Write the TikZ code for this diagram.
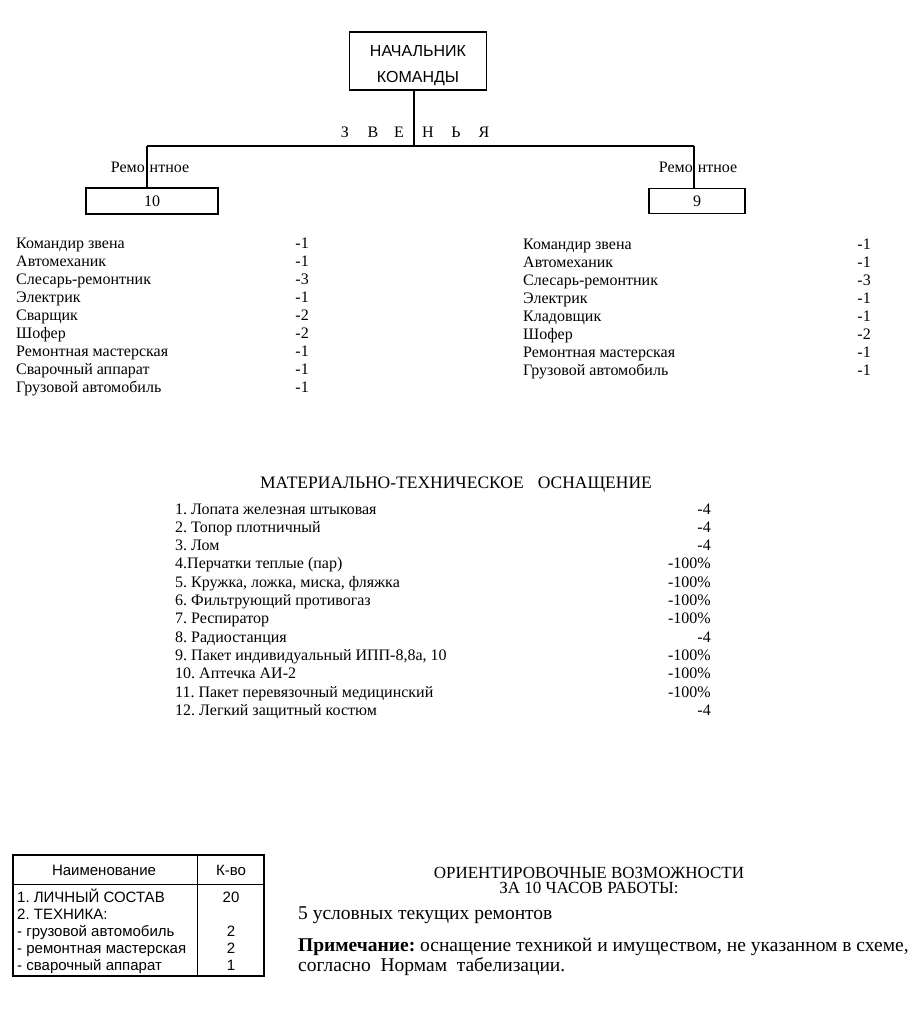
\documentclass[tikz,border=0pt]{standalone}
\usepackage{fontspec}
\setmainfont{Liberation Serif}
\newfontfamily\sansfnt{Liberation Sans}
\usetikzlibrary{positioning}
\frenchspacing

\tikzset{
  box/.style={draw,line width=1.5pt,inner sep=0pt},
  txt/.style={inner sep=0pt,font=\fontsize{16}{18}\selectfont},
  item/.style={txt,anchor=base west},
  num/.style={txt,anchor=base east},
  tabtxt/.style={inner sep=0pt,font=\sansfnt\fontsize{15}{17}\selectfont},
}

\begin{document}
\begin{tikzpicture}[x=1pt,y=-1pt]
  \useasboundingbox (0,0) rectangle (919,1010);
  % начальник команды
  \node[box,minimum width=137pt,minimum height=58pt,align=center,
        font=\sansfnt\fontsize{16}{26}\selectfont] (chief) at (418,61)
    {\rule{0pt}{20pt}НАЧАЛЬНИК\\КОМАНДЫ};
  % звенья
  \foreach \l/\x in {З/345,В/373,Е/399,Н/428,Ь/456,Я/484}
    \node[txt,anchor=base] (zv\x) at (\x,137) {\l};
  \coordinate (barL) at (147,146);
  \coordinate (barR) at (694,146);
  \draw[line width=1.2pt] (barL) -- (barR);
  \draw[line width=1.2pt] ([xshift=-4pt]chief.south) -- ([xshift=-4pt]chief.south |- barL);
  \node[txt,anchor=base] (remL) at (150,172) {Ремо\hspace{5pt}нтное};
  \node[txt,anchor=base] (remR) at (698,172) {Ремо\hspace{5pt}нтное};
  \node[box,minimum width=132pt,minimum height=26pt] (linkL) at (152,201) {\fontsize{16}{18}\selectfont 10};
  \node[box,minimum width=96pt,minimum height=25pt] (linkR) at (697,201) {\fontsize{16}{18}\selectfont 9};
  \draw[line width=1.2pt] (barL) -- (barL |- linkL.north);
  \draw[line width=1.2pt] (barR) -- (barR |- linkR.north);
  % состав звена 10
  \foreach \name/\val [count=\i] in {Командир звена/-1,Автомеханик/-1,Слесарь-ремонтник/-3,
      Электрик/-1,Сварщик/-2,Шофер/-2,Ремонтная мастерская/-1,Сварочный аппарат/-1,
      Грузовой автомобиль/-1} {
    \node[item] (a\i) at (16,{248+18.1*(\i-1)}) {\name};
    \node[num] (av\i) at (309,{248+18.1*(\i-1)}) {\val};
  }
  % состав звена 9
  \foreach \name/\val [count=\i] in {Командир звена/-1,Автомеханик/-1,Слесарь-ремонтник/-3,
      Электрик/-1,Кладовщик/-1,Шофер/-2,Ремонтная мастерская/-1,Грузовой автомобиль/-1} {
    \node[item] (b\i) at (523,{249+18.1*(\i-1)}) {\name};
    \node[num] (bv\i) at (871,{249+18.1*(\i-1)}) {\val};
  }
  % оснащение
  \node[txt,anchor=base,font=\fontsize{17.5}{20}\selectfont] (mto) at (456,488)
    {МАТЕРИАЛЬНО-ТЕХНИЧЕСКОЕ\hspace{0.8em}ОСНАЩЕНИЕ};
  \foreach \name/\val [count=\i] in {1. Лопата железная штыковая/-4,2. Топор плотничный/-4,
      3. Лом/-4,4.Перчатки теплые (пар)/-100\%,{5. Кружка, ложка, миска, фляжка}/-100\%,
      6. Фильтрующий противогаз/-100\%,7. Респиратор/-100\%,8. Радиостанция/-4,
      {9. Пакет индивидуальный ИПП-8,8а, 10}/-100\%,10. Аптечка АИ-2/-100\%,
      11. Пакет перевязочный медицинский/-100\%,12. Легкий защитный костюм/-4} {
    \node[item] (m\i) at (175,{514+18.3*(\i-1)}) {\name};
    \node[num] (mv\i) at (711,{514+18.3*(\i-1)}) {\val};
  }
  % таблица
  \draw[line width=1.5pt] (13,855) rectangle (264,976);
  \draw[line width=1pt] (13,884) -- (264,884);
  \draw[line width=1pt] (197,855) -- (197,976);
  \node[tabtxt,anchor=base] (th1) at (104,875) {Наименование};
  \node[tabtxt,anchor=base] (th2) at (231,875) {К-во};
  \foreach \name/\val [count=\i] in {1. ЛИЧНЫЙ СОСТАВ/20,2. ТЕХНИКА:/{},- грузовой автомобиль/2,
      - ремонтная мастерская/2,- сварочный аппарат/1} {
    \node[tabtxt,anchor=base west] (t\i) at (17,{902+17.2*(\i-1)}) {\name};
    \node[tabtxt,anchor=base] (tv\i) at (231,{902+17.2*(\i-1)}) {\val};
  }
  % возможности
  \node[txt,anchor=base,align=center,font=\fontsize{17}{15}\selectfont] (cap) at (589,893)
    {ОРИЕНТИРОВОЧНЫЕ ВОЗМОЖНОСТИ\\ЗА 10 ЧАСОВ РАБОТЫ:};
  \node[item,font=\fontsize{19.5}{17}\selectfont] (rep) at (298,919) {5 условных текущих ремонтов};
  \node[item,align=left,font=\fontsize{19.5}{17}\selectfont] (note) at (298,971)
    {\textbf{Примечание:} оснащение техникой и имуществом, не указанном в схеме,\\согласно\ \ Нормам\ \ табелизации.};
\end{tikzpicture}
\end{document}
